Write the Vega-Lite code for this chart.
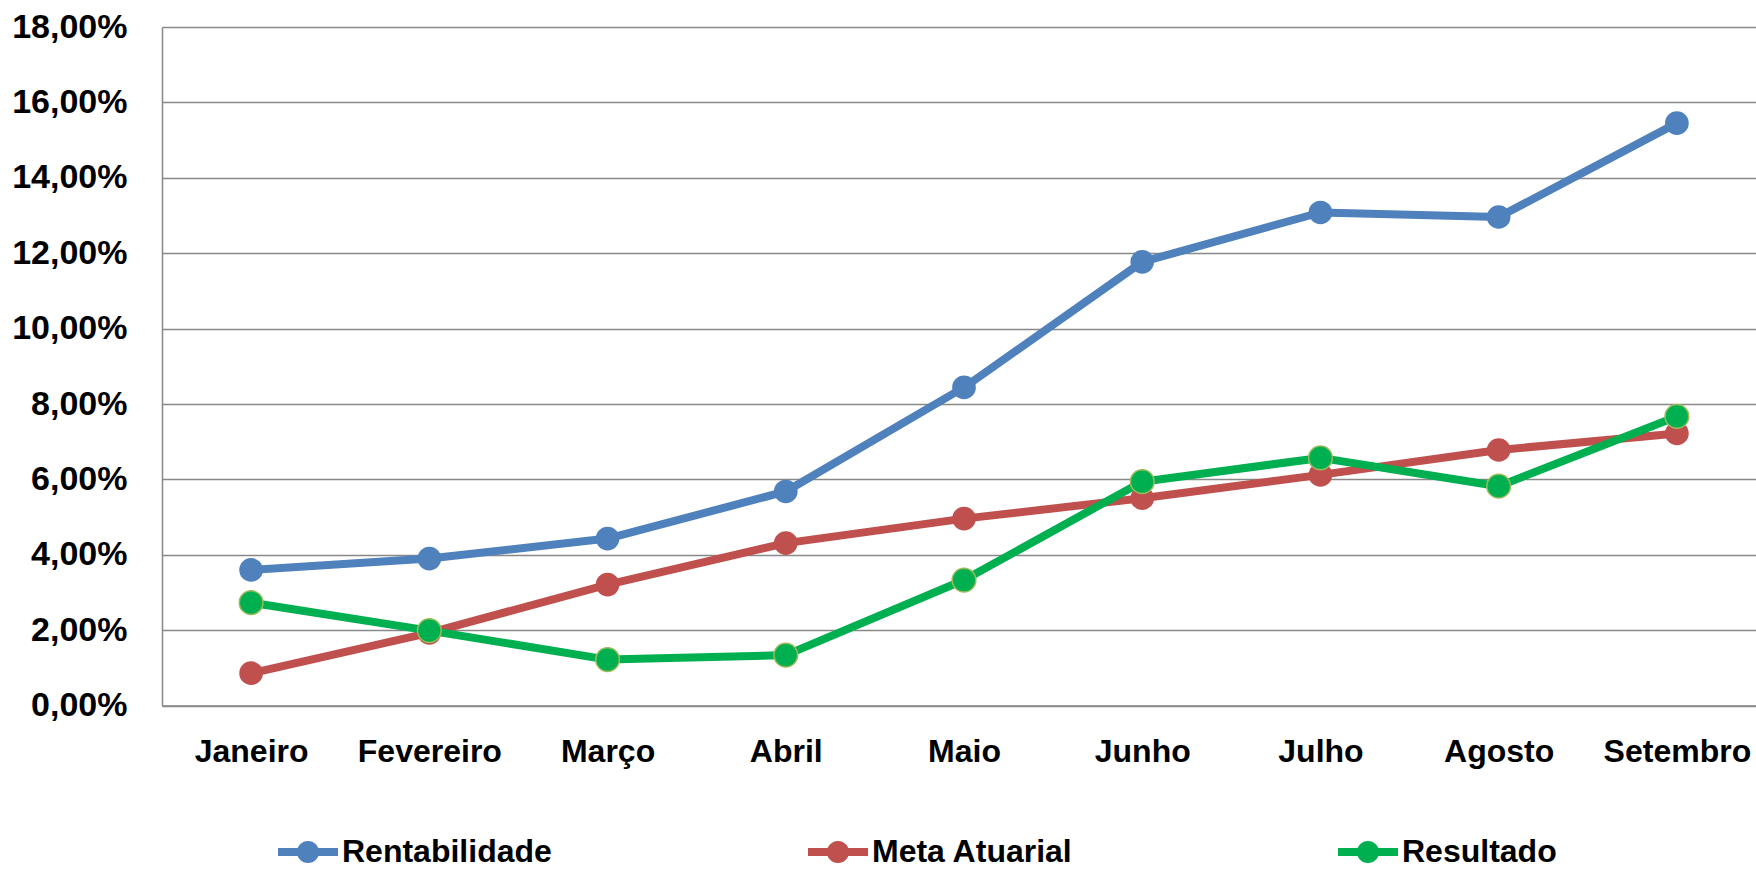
{
  "$schema": "https://vega.github.io/schema/vega-lite/v6.json",
  "autosize": {"type": "none"},
  "width": 1604,
  "height": 678.6,
  "padding": {"left": 162, "top": 27, "right": 0, "bottom": 163.4},
  "background": "white",
  "data": {
    "values": [
      {"mes": "Janeiro", "serie": "Rentabilidade", "valor": 3.60},
      {"mes": "Fevereiro", "serie": "Rentabilidade", "valor": 3.90},
      {"mes": "Março", "serie": "Rentabilidade", "valor": 4.43},
      {"mes": "Abril", "serie": "Rentabilidade", "valor": 5.68},
      {"mes": "Maio", "serie": "Rentabilidade", "valor": 8.44},
      {"mes": "Junho", "serie": "Rentabilidade", "valor": 11.77},
      {"mes": "Julho", "serie": "Rentabilidade", "valor": 13.08},
      {"mes": "Agosto", "serie": "Rentabilidade", "valor": 12.96},
      {"mes": "Setembro", "serie": "Rentabilidade", "valor": 15.45},
      {"mes": "Janeiro", "serie": "Meta Atuarial", "valor": 0.86},
      {"mes": "Fevereiro", "serie": "Meta Atuarial", "valor": 1.93},
      {"mes": "Março", "serie": "Meta Atuarial", "valor": 3.21},
      {"mes": "Abril", "serie": "Meta Atuarial", "valor": 4.31},
      {"mes": "Maio", "serie": "Meta Atuarial", "valor": 4.96},
      {"mes": "Junho", "serie": "Meta Atuarial", "valor": 5.50},
      {"mes": "Julho", "serie": "Meta Atuarial", "valor": 6.12},
      {"mes": "Agosto", "serie": "Meta Atuarial", "valor": 6.78},
      {"mes": "Setembro", "serie": "Meta Atuarial", "valor": 7.22},
      {"mes": "Janeiro", "serie": "Resultado", "valor": 2.73},
      {"mes": "Fevereiro", "serie": "Resultado", "valor": 1.99},
      {"mes": "Março", "serie": "Resultado", "valor": 1.22},
      {"mes": "Abril", "serie": "Resultado", "valor": 1.34},
      {"mes": "Maio", "serie": "Resultado", "valor": 3.33},
      {"mes": "Junho", "serie": "Resultado", "valor": 5.94},
      {"mes": "Julho", "serie": "Resultado", "valor": 6.57},
      {"mes": "Agosto", "serie": "Resultado", "valor": 5.82},
      {"mes": "Setembro", "serie": "Resultado", "valor": 7.67}
    ]
  },
  "encoding": {
    "x": {
      "field": "mes", "type": "ordinal",
      "sort": ["Janeiro", "Fevereiro", "Março", "Abril", "Maio", "Junho", "Julho", "Agosto", "Setembro"],
      "scale": {"type": "point", "padding": 0.5},
      "axis": {
        "title": null, "labelAngle": 0, "ticks": false, "grid": false,
        "domain": true, "domainColor": "#888888", "domainWidth": 1.5,
        "labelFont": "Liberation Sans", "labelFontWeight": "bold", "labelFontSize": 32,
        "labelColor": "#000000", "labelPadding": 31, "labelLimit": 400
      }
    },
    "y": {
      "field": "valor", "type": "quantitative",
      "scale": {"domain": [0, 18], "nice": false},
      "axis": {
        "title": null, "values": [0, 2, 4, 6, 8, 10, 12, 14, 16, 18],
        "labelExpr": "replace(format(datum.value, '.2f'), '.', ',') + '%'",
        "ticks": false, "grid": true, "gridColor": "#888888", "gridWidth": 1.5,
        "domain": true, "domainColor": "#888888", "domainWidth": 1.5,
        "labelFont": "Liberation Sans", "labelFontWeight": "bold", "labelFontSize": 34,
        "labelColor": "#000000", "labelPadding": 35
      }
    },
    "color": {
      "field": "serie", "type": "nominal",
      "sort": ["Rentabilidade", "Meta Atuarial", "Resultado"],
      "scale": {"domain": ["Rentabilidade", "Meta Atuarial", "Resultado"], "range": ["#4F81BD", "#C0504D", "#00B050"]},
      "legend": {
        "title": null, "orient": "none", "direction": "horizontal",
        "legendX": 116, "legendY": 795,
        "columns": 3, "gridAlign": "all", "columnPadding": 256,
        "labelFont": "Liberation Sans", "labelFontWeight": "bold", "labelFontSize": 32,
        "labelColor": "#000000", "labelOffset": 4, "labelLimit": 400,
        "symbolType": "M-1,-0.13L1,-0.13L1,0.13L-1,0.13Z M0.37,0A0.37,0.37 0 1,1 -0.37,0A0.37,0.37 0 1,1 0.37,0Z",
        "symbolSize": 3600, "symbolStrokeWidth": 0, "symbolOpacity": 1
      }
    }
  },
  "layer": [
    {
      "mark": {"type": "line", "strokeWidth": 8, "strokeCap": "round", "strokeJoin": "round"},
      "encoding": {"detail": {"field": "serie"}}
    },
    {
      "mark": {"type": "point", "filled": true, "size": 560, "opacity": 1, "shape": "circle"},
      "encoding": {
        "stroke": {
          "condition": {"test": "datum.serie === 'Resultado'", "value": "#9BBB59"},
          "value": null
        },
        "strokeWidth": {"value": 1.5}
      }
    }
  ]
}
